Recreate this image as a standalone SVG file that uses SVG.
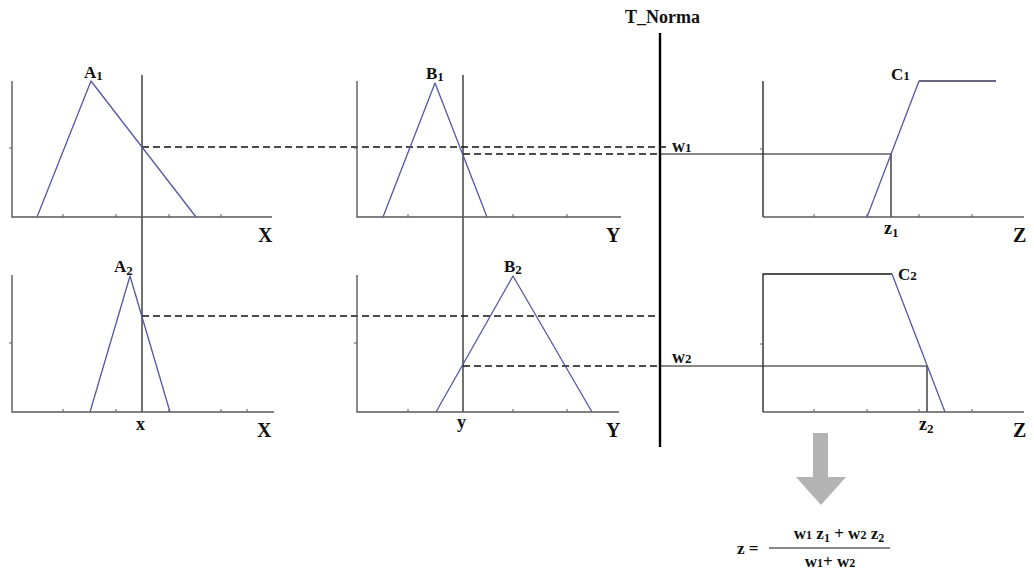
<svg xmlns="http://www.w3.org/2000/svg" width="1034" height="572" viewBox="0 0 1034 572">
<style>
.axis{stroke:#5a5a5a;stroke-width:1.4;fill:none}
.tick{stroke:#5a5a5a;stroke-width:1;fill:none}
.mf{stroke:#5656a6;stroke-width:1.3;fill:none;stroke-linejoin:round}
.blk{stroke:#1a1a1a;stroke-width:1.3;fill:none}
.guide{stroke:#111;stroke-width:1.2;fill:none}
.dash{stroke:#111;stroke-width:1.3;stroke-dasharray:7 4;fill:none}
.tn{stroke:#000;stroke-width:2.4;fill:none}
text{font-family:"Liberation Serif","Times New Roman",serif;font-weight:bold;fill:#111}
.ax{font-size:20px}
.lb{font-size:17px}
.sm{font-size:18px}
.fm{font-size:17px}
.s1{font-size:13px}
</style>
<rect width="1034" height="572" fill="#fff"/>

<g id="connectors">
  <line class="guide" x1="142" y1="75" x2="142" y2="412"/>
  <line class="guide" x1="463" y1="75" x2="463" y2="412"/>
  <line class="tn" x1="660" y1="33" x2="660" y2="447"/>
  <line class="dash" x1="142" y1="147" x2="666" y2="147"/>
  <line class="dash" x1="463" y1="154" x2="660" y2="154"/>
  <line class="guide" x1="660" y1="154" x2="891" y2="154"/>
  <line class="guide" x1="891" y1="154" x2="891" y2="217"/>
  <line class="dash" x1="142" y1="316" x2="660" y2="316"/>
  <line class="dash" x1="463" y1="366" x2="660" y2="366"/>
  <line class="guide" x1="660" y1="366" x2="927" y2="366"/>
  <line class="guide" x1="927" y1="366" x2="927" y2="412"/>
</g>

<g id="tnorma">
  <text x="625" y="23" style="font-size:18px">T_Norma</text>
  <text class="sm" x="672" y="152">w<tspan class="s1">1</tspan></text>
  <text class="sm" x="672" y="363">w<tspan class="s1">2</tspan></text>
</g>

<g id="plot-A1">
  <polyline class="axis" points="12,81 12,217 272,217"/>
  <path class="tick" d="M63,214V217M116,214V217M169,214V217M221,214V217M9,148H12"/>
  <polyline class="mf" points="37,217 91,81 196,217"/>
  <text class="lb" x="84" y="78">A<tspan dy="2" class="s1">1</tspan></text>
  <text class="ax" x="258" y="242">X</text>
</g>

<g id="plot-B1">
  <polyline class="axis" points="357,81 357,217 621,217"/>
  <path class="tick" d="M408,214V217M513,214V217M567,214V217M354,148H357"/>
  <polyline class="mf" points="383,217 435,83 487,217"/>
  <text class="lb" x="426" y="79">B<tspan dy="2" class="s1">1</tspan></text>
  <text class="ax" x="606" y="242">Y</text>
</g>

<g id="plot-C1">
  <polyline class="blk" points="763,81 763,217"/>
  <line class="axis" x1="763" y1="217" x2="1024" y2="217"/>
  <path class="tick" d="M814,214V217M867,214V217M919,214V217M972,214V217M760,149H763"/>
  <polyline class="mf" points="867,217 919,81"/>
  <line class="blk" x1="919" y1="81" x2="996" y2="81" style="stroke:#333355"/>
  <text class="lb" x="891" y="80">C<tspan class="s1">1</tspan></text>
  <text class="sm" x="884" y="234">z<tspan dy="3" class="s1">1</tspan></text>
  <text class="ax" x="1013" y="242">Z</text>
</g>

<g id="plot-A2">
  <polyline class="axis" points="12,275 12,412 274,412"/>
  <path class="tick" d="M63,409V412M116,409V412M169,409V412M221,409V412M247,409V412M9,343H12"/>
  <polyline class="mf" points="90,412 130,276 170,412"/>
  <text class="lb" x="114" y="272">A<tspan dy="3" class="s1">2</tspan></text>
  <text class="sm" x="136" y="430">x</text>
  <text class="ax" x="257" y="437">X</text>
</g>

<g id="plot-B2">
  <polyline class="axis" points="357,275 357,412 619,412"/>
  <path class="tick" d="M408,409V412M513,409V412M567,409V412M354,343H357"/>
  <polyline class="mf" points="436,412 513,276 592,412"/>
  <text class="lb" x="504" y="272">B<tspan dy="2" class="s1">2</tspan></text>
  <text class="sm" x="457" y="428">y</text>
  <text class="ax" x="606" y="437">Y</text>
</g>

<g id="plot-C2">
  <polyline class="blk" points="763,412 763,274 892,274"/>
  <line class="axis" x1="763" y1="412" x2="1024" y2="412"/>
  <path class="tick" d="M814,409V412M867,409V412M919,409V412M972,409V412M760,344H763"/>
  <polyline class="mf" points="892,274 945,412"/>
  <text class="lb" x="898" y="280">C<tspan class="s1">2</tspan></text>
  <text class="sm" x="919" y="430">z<tspan dy="3" class="s1">2</tspan></text>
  <text class="ax" x="1013" y="437">Z</text>
</g>

<g id="result">
  <polygon points="813,433 828,433 828,477 846,477 821,505 796,477 813,477" fill="#b3b3b3"/>
  <text class="fm" x="737" y="554">z =</text>
  <line x1="769" y1="548" x2="890" y2="548" stroke="#111" stroke-width="1"/>
  <text class="fm" x="839" y="539" text-anchor="middle">w<tspan style="font-size:12px">1</tspan> z<tspan dy="3" style="font-size:12px">1</tspan><tspan dy="-3"> + w</tspan><tspan style="font-size:12px">2</tspan>  z<tspan dy="3" style="font-size:12px">2</tspan></text>
  <text class="fm" x="830" y="567" text-anchor="middle">w<tspan style="font-size:12px">1</tspan>+ w<tspan style="font-size:12px">2</tspan></text>
</g>
</svg>
